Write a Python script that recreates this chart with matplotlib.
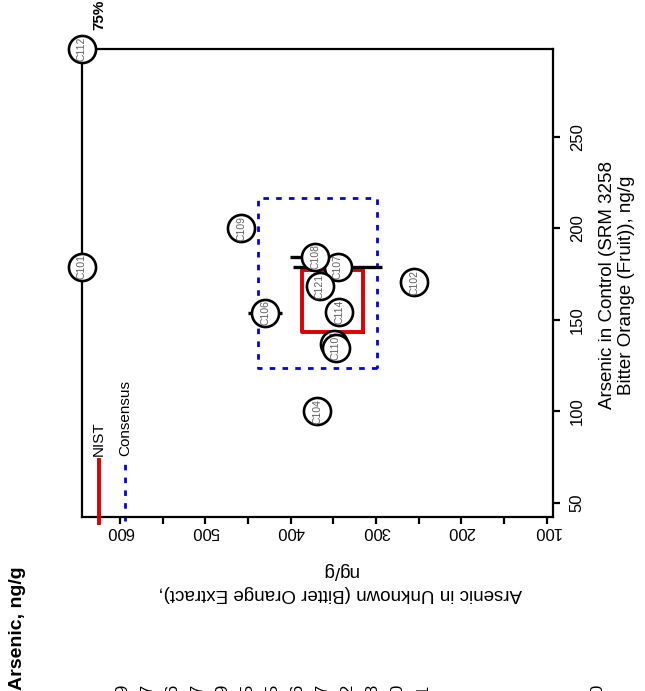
import numpy as np
import matplotlib.pyplot as plt

plt.rcParams['font.family'] = ['Liberation Sans', 'DejaVu Sans']

# lab results: control (SRM 3258) vs unknown (bitter orange extract), ng/g
labels = ["C101", "C102", "C103", "C104", "C106", "C107", "C108",
          "C109", "C110", "C112", "C114", "C121"]
control = [179, 170.5, 137, 100, 154, 179, 184.5, 200, 134.5, 297.9, 154.5, 168.5]
unknown = [645, 255, 349, 369, 430, 345, 371, 458, 347, 645, 343, 366]
unk_err = [0, 0, 0, 0, 20, 52, 30, 0, 0, 0, 0, 0]

# NIST and consensus boxes (unknown lo/hi, control lo/hi)
nist_unk = [315, 387]
nist_ctl = [143.6, 177]
cons_unk = [299, 438]
cons_ctl = [124, 216.4]

unk_ticks = [600, 500, 400, 300, 200, 100]
unk_minor = [550, 450, 350, 250, 150]
ctl_ticks = [50, 100, 150, 200, 250]

# cut-off text from the panel below
edge_digits = ["9", "7", "6", "7", "9", "5", "5", "6", "7", "2", "8", "0", "1"]

fig = plt.figure(figsize=(6.45, 6.91), dpi=100)
ax = fig.add_axes([81.7 / 645, 1 - 517 / 691, (553 - 81.7) / 645, (517 - 49) / 691])
ax.set_xlim(645, 92.5)
ax.set_ylim(42.4, 297.9)

for s in ax.spines.values():
    s.set_linewidth(1.6)

# boxes
ax.plot([nist_unk[0], nist_unk[1], nist_unk[1], nist_unk[0], nist_unk[0]],
        [nist_ctl[0], nist_ctl[0], nist_ctl[1], nist_ctl[1], nist_ctl[0]],
        color="#dd0000", lw=2.8, zorder=3)
ax.plot([cons_unk[0], cons_unk[1], cons_unk[1], cons_unk[0], cons_unk[0]],
        [cons_ctl[0], cons_ctl[0], cons_ctl[1], cons_ctl[1], cons_ctl[0]],
        color="#0000ee", lw=2.0, ls=(0, (2, 2.6)), zorder=2)

# legend marks
ax.plot([624.6, 624.6], [39, 73.5], color="#dd0000", lw=2.8, clip_on=False, zorder=3)
ax.plot([594, 594], [40, 73.5], color="#0000ee", lw=2.0, ls=(0, (2, 2.6)),
        clip_on=False, zorder=2)
ax.text(624.6, 75.6, "NIST", rotation=90, ha="center", va="bottom", fontsize=11)
ax.text(594, 75.6, "Consensus", rotation=90, ha="center", va="bottom", fontsize=11)

# error bars on unknown
for c, u, e in zip(control, unknown, unk_err):
    if e > 0:
        ax.plot([u - e, u + e], [c, c], color="black", lw=2.4, zorder=5,
                solid_capstyle="butt")

# points
for i, (lab, c, u) in enumerate(zip(labels, control, unknown)):
    ax.plot(u, c, "o", ms=19.5, mfc="white", mec="black", mew=1.9,
            zorder=10 + 2 * i, clip_on=False)
    ax.text(u, c, lab, rotation=90, ha="center", va="center", fontsize=7.5,
            color="#606060", zorder=11 + 2 * i, clip_on=False)

fig.text(99 / 645, 1 - 30 / 691, "75%", rotation=90, ha="center",
         va="bottom", fontsize=11, fontweight="bold")

# axes / ticks
ax.set_xticks(unk_ticks)
ax.set_xticks(unk_minor, minor=True)
ax.set_xticklabels([str(t) for t in unk_ticks], rotation=180, fontsize=12)
ax.tick_params(axis="x", which="both", direction="out", length=5, width=1.6, pad=0)
ax.yaxis.tick_right()
ax.set_yticks(ctl_ticks)
ax.set_yticklabels([str(t) for t in ctl_ticks], rotation=90, va="center", fontsize=12)
ax.tick_params(axis="y", direction="out", length=5, width=1.6, pad=7)

fig.text(617 / 645, 1 - 285 / 691, "Arsenic in Control (SRM 3258\nBitter Orange (Fruit)), ng/g",
         rotation=90, ha="center", va="center", multialignment="center",
         fontsize=13.5, linespacing=1.15)
fig.text(340 / 645, 1 - 582 / 691, "Arsenic in Unknown (Bitter Orange Extract),\nng/g",
         rotation=180, ha="center", va="center", multialignment="center",
         fontsize=13.5, linespacing=1.4)

fig.text(18 / 645, 1 - 690 / 691, "Arsenic, ng/g", rotation=90, ha="center",
         va="bottom", fontsize=14, fontweight="bold")
for i, d in enumerate(edge_digits):
    fig.text((123 + 25 * i) / 645, 1 - 685 / 691, d, rotation=90, ha="center",
             va="top", fontsize=12)
fig.text(598 / 645, 1 - 685 / 691, "0", rotation=90, ha="center", va="top", fontsize=12)

fig.savefig("out.png", dpi=100)
